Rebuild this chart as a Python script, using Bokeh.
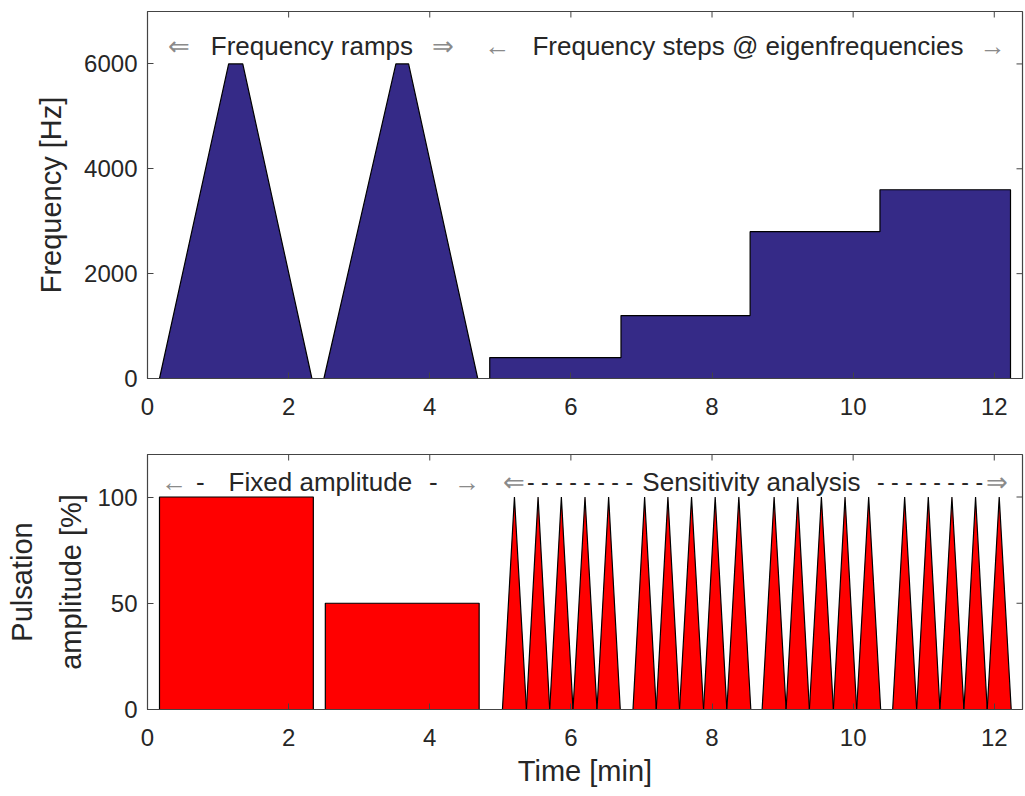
import math
from bokeh.plotting import figure
from bokeh.layouts import column
from bokeh.models import FixedTicker, Range1d, ColumnDataSource
from bokeh.embed import file_html
from bokeh.resources import INLINE
from bokeh.core.properties import value

# ---------------- data ----------------
# frequency ramps (min, Hz)
ramp_start = [0.17, 2.50]
ramp_top_start = [1.15, 3.52]
ramp_top_end = [1.35, 3.70]
ramp_end = [2.33, 4.68]
ramp_peak = [6000, 6000]

# frequency steps @ eigenfrequencies
step_start = [4.85, 6.71, 8.54, 10.38]
step_end = [6.71, 8.54, 10.38, 12.23]
step_freq = [400, 1200, 2800, 3600]

# fixed amplitude blocks (min, %)
fixed_start = [0.17, 2.52]
fixed_end = [2.35, 4.70]
fixed_amp = [100, 50]

# sensitivity analysis pulses (min, %)
pulse_start = [5.03, 5.37, 5.70, 6.03, 6.37,
               6.88, 7.21, 7.54, 7.88, 8.21,
               8.71, 9.05, 9.38, 9.72, 10.05,
               10.56, 10.90, 11.23, 11.57, 11.90]
pulse_end = [5.37, 5.70, 6.03, 6.37, 6.70,
             7.21, 7.54, 7.88, 8.21, 8.55,
             9.05, 9.38, 9.72, 10.05, 10.39,
             10.90, 11.23, 11.57, 11.90, 12.24]
pulse_amp = [100, 100, 100, 100, 100, 100, 100, 100, 100, 100,
             100, 100, 100, 100, 100, 100, 100, 100, 100, 100]

x_ticks = [0, 2, 4, 6, 8, 10, 12]
freq_ticks = [0, 2000, 4000, 6000]
amp_ticks = [0, 50, 100]
X_MAX = 12.4
FREQ_MAX = 7000
AMP_MAX = 120

# annotation texts
top_texts = ["⇐", "Frequency ramps", "⇒", "←", "Frequency steps @ eigenfrequencies", "→"]
top_text_x = [0.44, 2.33, 4.19, 4.96, 8.51, 11.98]
top_text_arrow = [True, False, True, True, False, True]
bot_texts = ["←", "-", "Fixed amplitude", "-", "→",
             "⇐", "- - - - - - - -", "Sensitivity  analysis", "- - - - - - - -", "⇒"]
bot_text_x = [0.38, 0.75, 2.45, 4.05, 4.53, 5.19, 6.13, 8.61, 11.09, 12.04]
bot_text_arrow = [True, False, False, False, True, True, False, False, False, True]

NAVY = "#352a87"
RED = "#ff0000"
FONT = "Liberation Sans"
AXC = "#444444"
TXT = "#262626"


def style(p, yticks, ymax):
    p.xgrid.visible = False
    p.ygrid.visible = False
    p.outline_line_color = AXC
    p.outline_line_width = 1.2
    p.background_fill_color = "white"
    p.border_fill_color = "white"
    for ax in p.xaxis + p.yaxis:
        ax.major_tick_in = 6
        ax.major_tick_out = 0
        ax.minor_tick_in = 0
        ax.minor_tick_out = 0
        ax.axis_line_color = AXC
        ax.major_tick_line_color = AXC
        ax.major_label_text_font = FONT
        ax.major_label_text_font_size = "24px"
        ax.major_label_text_color = TXT
        ax.axis_label_text_font = FONT
        ax.axis_label_text_font_size = "29px"
        ax.axis_label_text_font_style = "normal"
        ax.axis_label_text_color = TXT
    p.xaxis.major_label_standoff = 19
    p.yaxis.major_label_standoff = 10
    p.xaxis.ticker = FixedTicker(ticks=x_ticks)
    p.yaxis.ticker = FixedTicker(ticks=yticks)
    # mirrored inward ticks on the top and right frame edges
    p.ray(x=x_ticks, y=[ymax] * len(x_ticks), length=6, length_units="screen",
          angle=-math.pi / 2, line_color=AXC, line_width=1)
    p.ray(x=[X_MAX] * len(yticks), y=yticks, length=6, length_units="screen",
          angle=math.pi, line_color=AXC, line_width=1)


# ---------------- top: frequency ----------------
p1 = figure(width=1024, height=428, output_backend="svg", toolbar_location=None,
            x_range=Range1d(0, X_MAX), y_range=Range1d(0, FREQ_MAX),
            min_border_left=147, min_border_right=2, min_border_top=11, min_border_bottom=50)
style(p1, freq_ticks, FREQ_MAX)
p1.left[0].axis_label = "Frequency [Hz]"
p1.left[0].axis_label_standoff = 14

ramp_xs = [[s, ts, te, e] for s, ts, te, e in zip(ramp_start, ramp_top_start, ramp_top_end, ramp_end)]
ramp_ys = [[0, pk, pk, 0] for pk in ramp_peak]
p1.patches(ramp_xs, ramp_ys, fill_color=NAVY, line_color="black", line_width=1.2)

sx, sy = [step_start[0]], [0]
for s, e, f in zip(step_start, step_end, step_freq):
    sx += [s, e]
    sy += [f, f]
sx.append(step_end[-1])
sy.append(0)
p1.patch(sx, sy, fill_color=NAVY, line_color="black", line_width=1.2)

src_t = ColumnDataSource(dict(x=top_text_x, y=[6350] * len(top_texts), t=top_texts,
                              c=["#8a8a8a" if a else TXT for a in top_text_arrow]))
p1.text(x="x", y="y", text="t", text_color="c", source=src_t, text_align="center",
        text_baseline="middle", text_font=value(FONT), text_font_size="26px")

# ---------------- bottom: amplitude ----------------
p2 = figure(width=1024, height=361, output_backend="svg", toolbar_location=None,
            x_range=Range1d(0, X_MAX), y_range=Range1d(0, AMP_MAX),
            min_border_left=147, min_border_right=2, min_border_top=26, min_border_bottom=80)
style(p2, amp_ticks, AMP_MAX)
p2.left[0].axis_label = "Pulsation\namplitude [%]"
p2.left[0].axis_label_standoff = 7
p2.left[0].axis_label_text_line_height = 1.55
p2.below[0].axis_label = "Time [min]"
p2.below[0].axis_label_standoff = 6

p2.quad(left=fixed_start, right=fixed_end, bottom=0, top=fixed_amp,
         fill_color=RED, line_color="black", line_width=1.2)

pulse_xs = [[s, (s + e) / 2, e] for s, e in zip(pulse_start, pulse_end)]
pulse_ys = [[0, a, 0] for a in pulse_amp]
p2.patches(pulse_xs, pulse_ys, fill_color=RED, line_color="black", line_width=1.2)

bot_sizes = ["23px" if t.startswith("- -") else "26px" for t in bot_texts]
src_b = ColumnDataSource(dict(x=bot_text_x, y=[107] * len(bot_texts), t=bot_texts,
                              c=["#8a8a8a" if a else TXT for a in bot_text_arrow], s=bot_sizes))
p2.text(x="x", y="y", text="t", text_color="c", text_font_size="s", source=src_b,
        text_align="center", text_baseline="middle", text_font=value(FONT))

layout = column(p1, p2, spacing=0)
open("out.html", "w").write(file_html(layout, INLINE))
